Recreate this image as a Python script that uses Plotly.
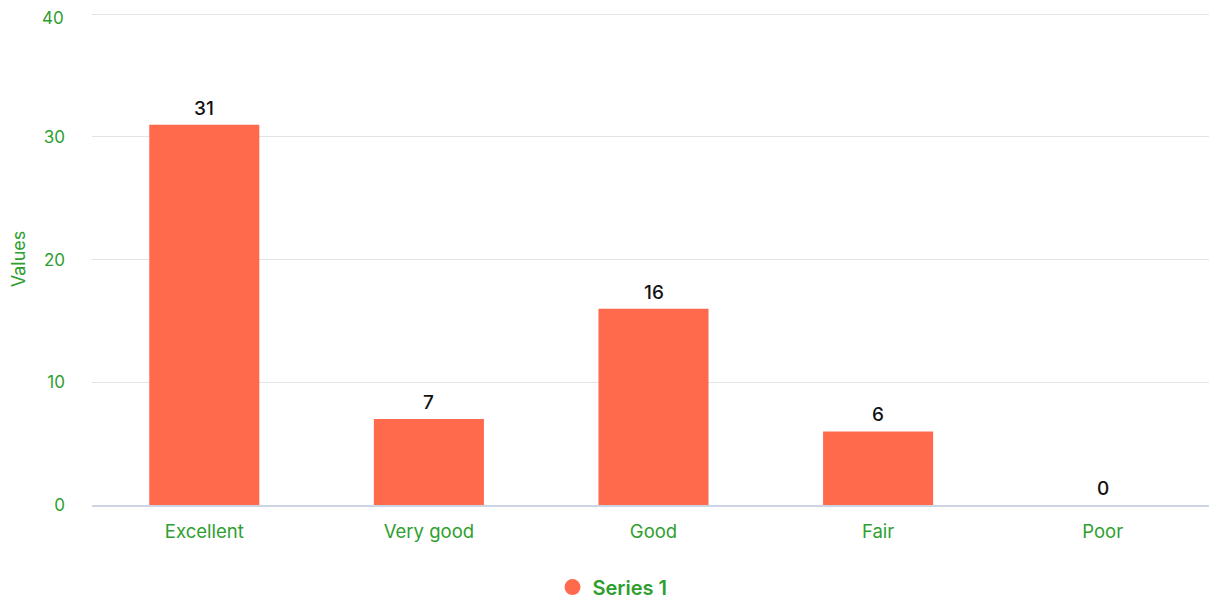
import plotly.graph_objects as go

categories = ["Excellent", "Very good", "Good", "Fair", "Poor"]
values = [31, 7, 16, 6, 0]
series_name = "Series 1"
y_ticks = [0, 10, 20, 30, 40]

GREEN = "#2e9e2e"
BAR = "#ff6a4d"
FONT = "Inter"

fig = go.Figure()
fig.add_trace(go.Bar(
    x=categories, y=values, name=series_name,
    marker=dict(color=BAR, line=dict(width=0)),
    showlegend=False, width=0.49, hoverinfo="x+y",
))
fig.add_trace(go.Scatter(
    x=[None], y=[None], mode="markers", name=series_name,
    marker=dict(color=BAR, size=20, symbol="circle"),
    showlegend=True,
))

for c, v in zip(categories, values):
    fig.add_annotation(x=c, y=v, text=str(v), showarrow=False,
                       yanchor="bottom", yshift=3,
                       font=dict(color="#111111", size=19, family=FONT, weight=500))

# top tick label nudged down so it stays inside the page (as in the reference)
tick_text = [str(t) for t in y_ticks[:-1]] + [""]
fig.add_annotation(xref="paper", x=0, y=y_ticks[-1], text=str(y_ticks[-1]),
                   showarrow=False, xanchor="right", yanchor="middle",
                   xshift=-26, yshift=-4,
                   font=dict(color=GREEN, size=17, family=FONT))

fig.update_layout(
    width=1209, height=597,
    margin=dict(l=84, r=2, t=5, b=100, autoexpand=False),
    paper_bgcolor="white", plot_bgcolor="white",
    font=dict(family=FONT, color=GREEN, size=17),
    showlegend=True,
    legend=dict(orientation="h", xref="container", yref="container",
                x=0.5, xanchor="center", y=0.03, yanchor="middle",
                font=dict(size=20, color=GREEN, family=FONT, weight=600),
                itemsizing="trace"),
    xaxis=dict(tickfont=dict(color=GREEN, size=18.5), showgrid=False,
               showline=True, linecolor="#cdd5e3", linewidth=2, ticks="",
               ticklabelstandoff=9, automargin=False, fixedrange=True),
    yaxis=dict(range=[0, 40.1], tickvals=y_ticks, ticktext=tick_text,
               tickfont=dict(color=GREEN, size=17),
               showgrid=True, gridcolor="#e3e3e3", gridwidth=1, zeroline=False,
               ticklabelstandoff=26, automargin=False, ticklabeloverflow="allow",
               title=dict(text="Values", font=dict(color=GREEN, size=18), standoff=14)),
)

fig.write_html("out.html")
